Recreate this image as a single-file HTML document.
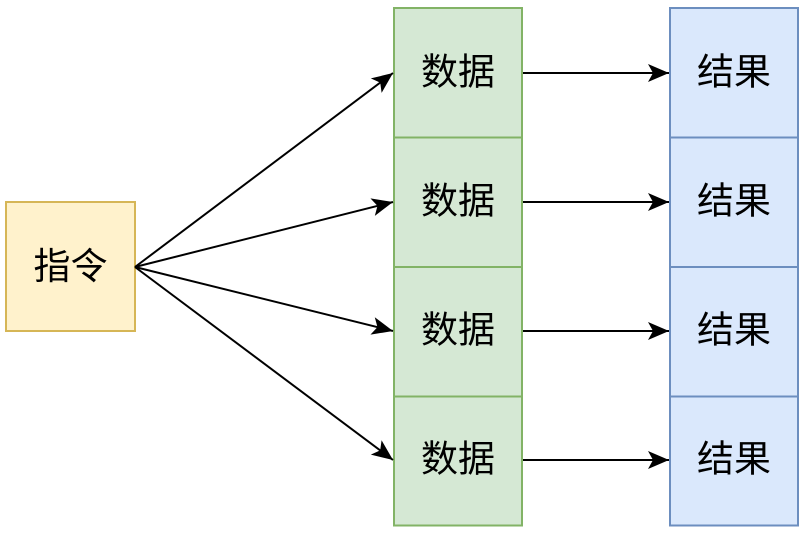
<!DOCTYPE html>
<html><head><meta charset="utf-8"><style>
html,body{margin:0;padding:0;background:#fff;width:806px;height:534px;overflow:hidden}
text{font-family:"Liberation Sans","Noto Sans CJK SC",sans-serif;font-size:37px;fill:#000}
</style></head><body>
<svg width="806" height="534" viewBox="0 0 806 534" xmlns="http://www.w3.org/2000/svg">
<defs>
<marker id="b" markerWidth="24" markerHeight="24" refX="22" refY="12" orient="auto" markerUnits="userSpaceOnUse" viewBox="0 0 24 24"><path d="M1,3 L22,12 L1,21 L6,12 Z" fill="#000"/></marker></defs>
<rect x="6" y="202" width="129" height="129" fill="#fff2cc" stroke="#d6b656" stroke-width="2"/>
<text x="70.5" y="266.5" text-anchor="middle" dominant-baseline="central">指令</text>
<g fill="#d5e8d4" stroke="#82b366" stroke-width="2">
<rect x="394" y="8" width="128" height="129.5"/><rect x="394" y="137.5" width="128" height="129.5"/><rect x="394" y="267" width="128" height="129.5"/><rect x="394" y="396.5" width="128" height="129"/></g>
<g fill="#dae8fc" stroke="#6c8ebf" stroke-width="2">
<rect x="670" y="8" width="128" height="129.5"/><rect x="670" y="137.5" width="128" height="129.5"/><rect x="670" y="267" width="128" height="129.5"/><rect x="670" y="396.5" width="128" height="129"/></g>
<g text-anchor="middle" dominant-baseline="central">
<text x="458" y="72">数据</text><text x="458" y="201">数据</text><text x="458" y="330">数据</text><text x="458" y="459">数据</text>
<text x="734" y="72">结果</text><text x="734" y="201">结果</text><text x="734" y="330">结果</text><text x="734" y="459">结果</text></g>
<g stroke="#000" stroke-width="2" fill="none" marker-end="url(#b)">
<line x1="135" y1="267" x2="393" y2="73"/><line x1="135" y1="267" x2="393" y2="202"/>
<line x1="135" y1="267" x2="393" y2="331"/><line x1="135" y1="267" x2="393" y2="460"/>
<line x1="523" y1="73" x2="669" y2="73"/><line x1="523" y1="202" x2="669" y2="202"/>
<line x1="523" y1="331" x2="669" y2="331"/><line x1="523" y1="460" x2="669" y2="460"/></g>
</svg>
</body></html>
